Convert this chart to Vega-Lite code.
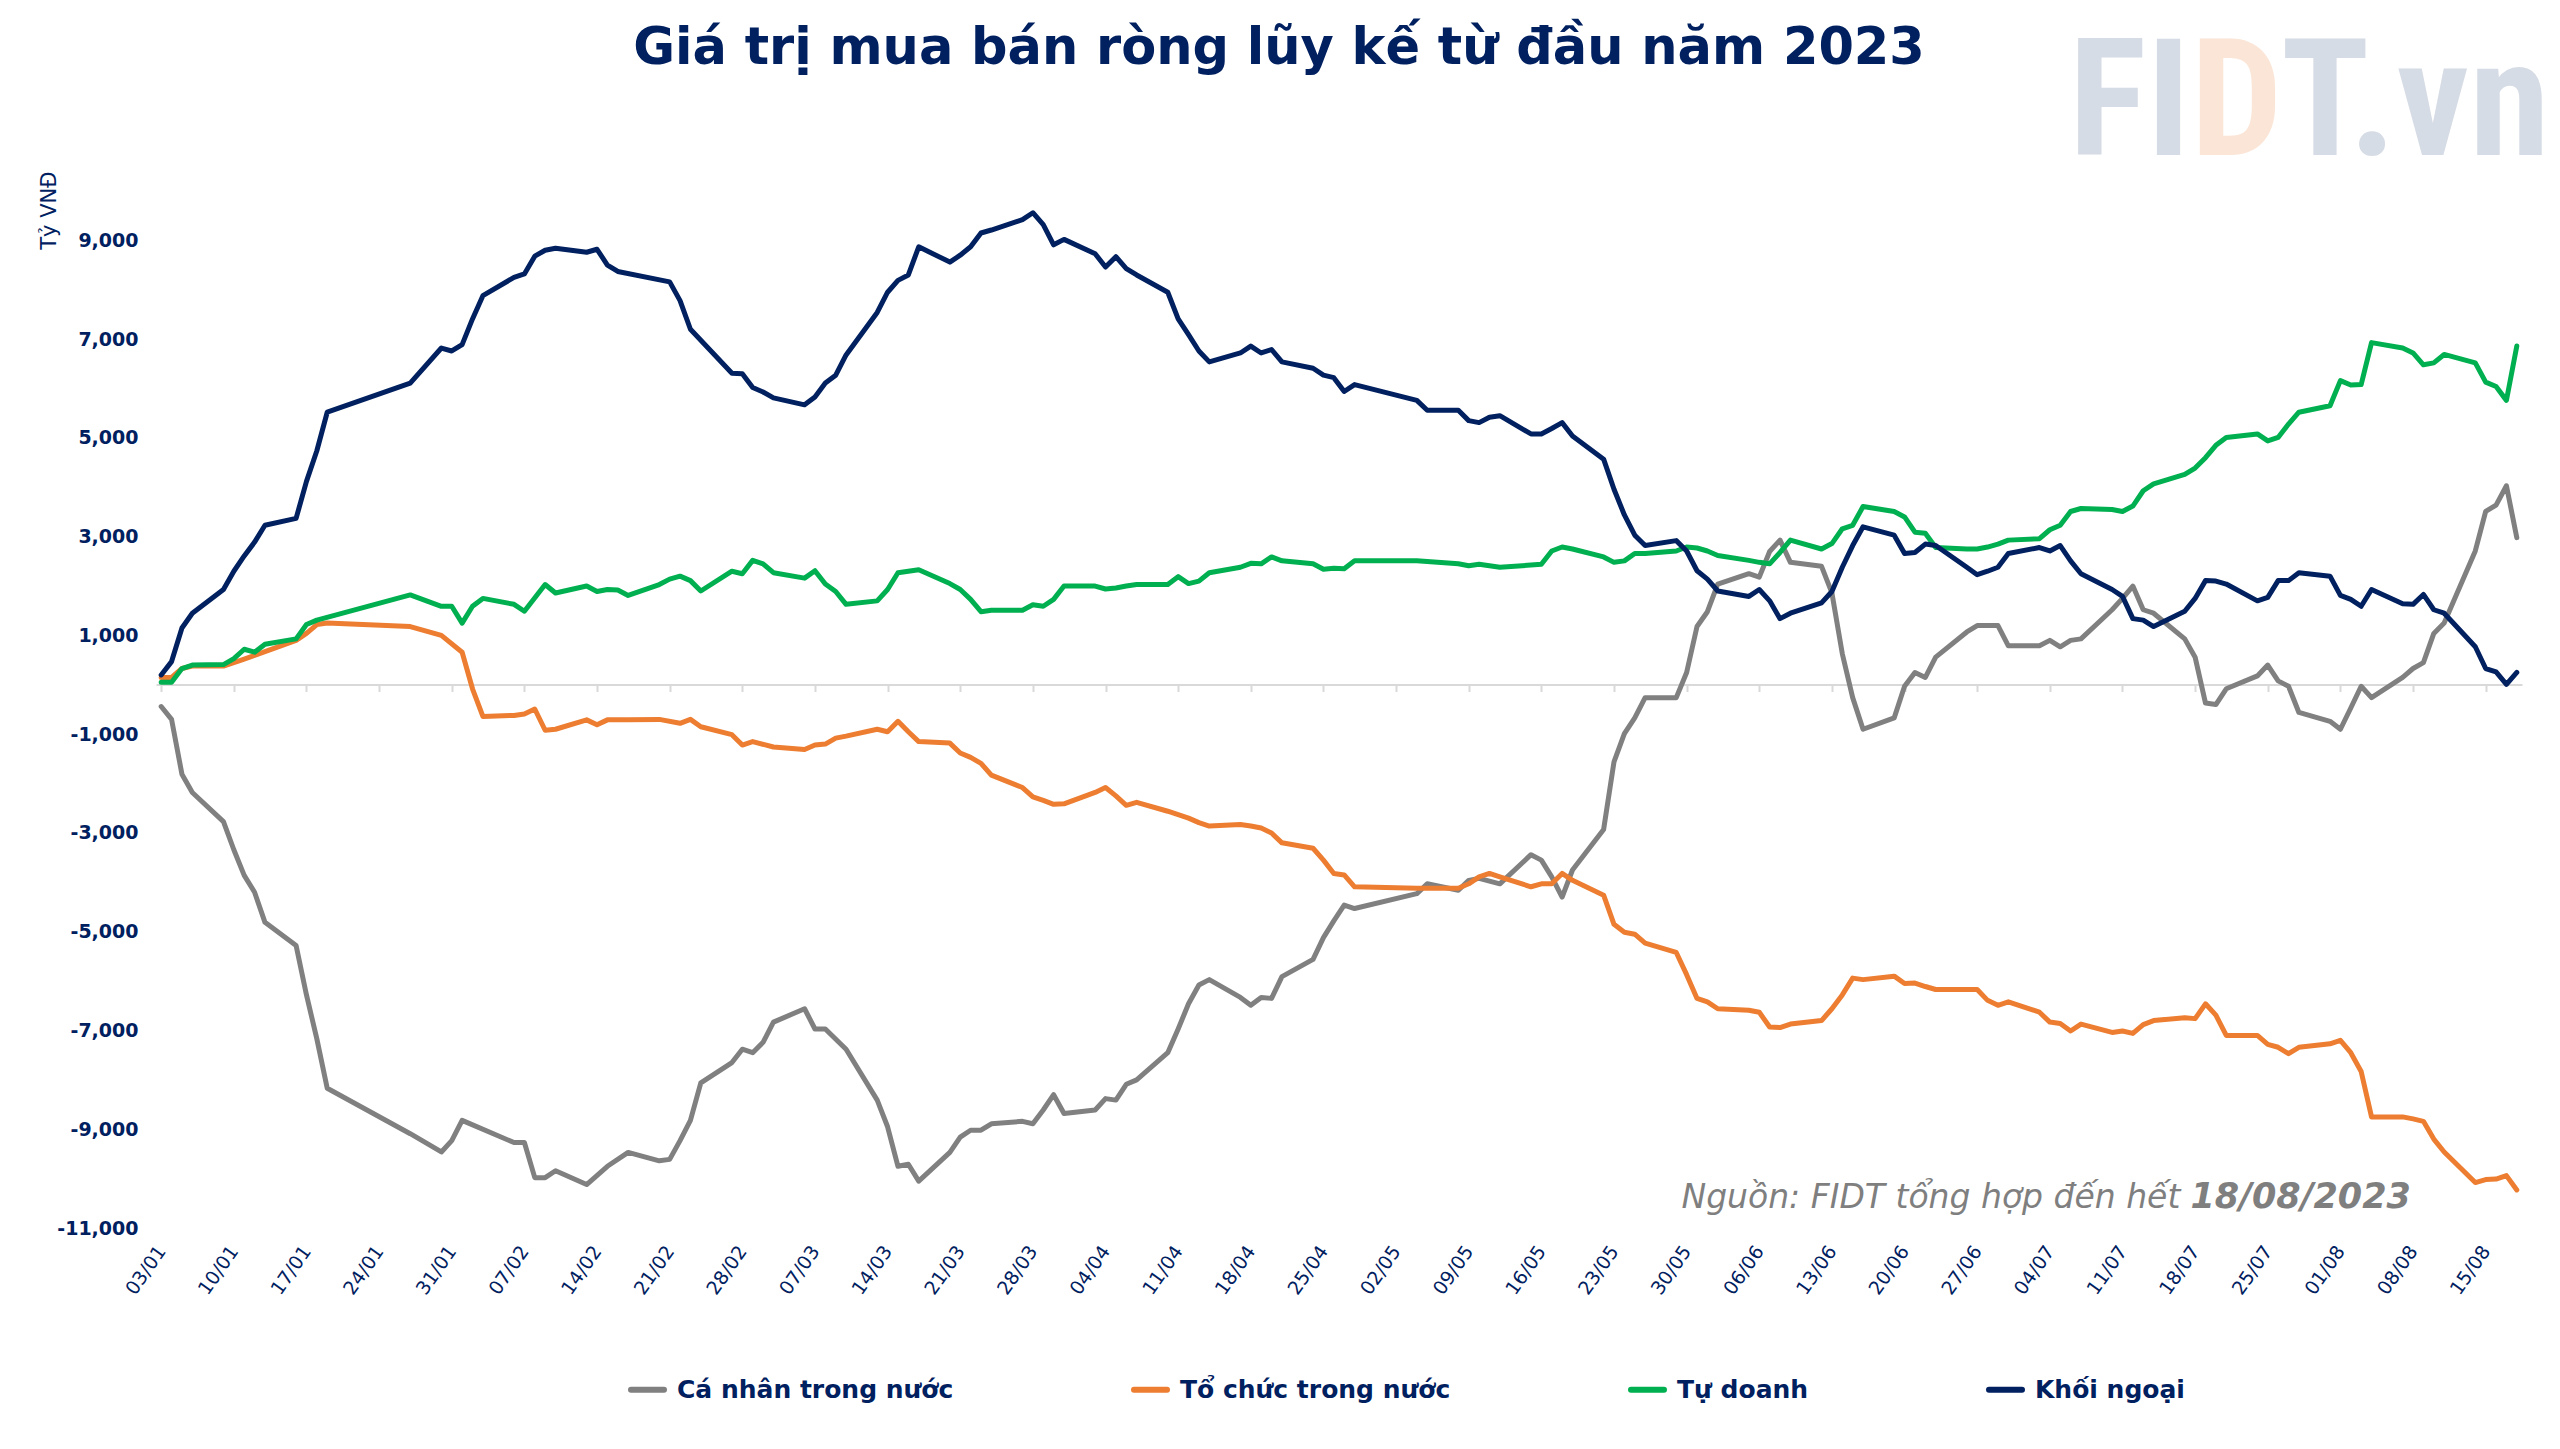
{
  "$schema": "https://vega.github.io/schema/vega-lite/v6.json",
  "width": 2366,
  "height": 1037,
  "autosize": {"type": "none"},
  "padding": {"left": 156, "top": 191, "right": 38, "bottom": 221},
  "background": "white",
  "title": {
    "text": "Giá trị mua bán ròng lũy kế từ đầu năm 2023",
    "font": "DejaVu Sans", "fontWeight": "bold", "fontSize": 51, "color": "#002060",
    "anchor": "middle", "frame": "group", "dx": -60, "baseline": "alphabetic", "offset": -90
  },
  "datasets": {
    "cn": [
      {"d":"2023-01-03","v":-440},{"d":"2023-01-04","v":-700},{"d":"2023-01-05","v":-1810},{"d":"2023-01-06","v":-2180},{"d":"2023-01-09","v":-2770},{"d":"2023-01-10","v":-3340},{"d":"2023-01-11","v":-3860},{"d":"2023-01-12","v":-4200},{"d":"2023-01-13","v":-4810},{"d":"2023-01-16","v":-5280},{"d":"2023-01-17","v":-6280},{"d":"2023-01-18","v":-7170},{"d":"2023-01-19","v":-8170},{"d":"2023-01-27","v":-9090},{"d":"2023-01-30","v":-9460},{"d":"2023-01-31","v":-9230},{"d":"2023-02-01","v":-8820},{"d":"2023-02-06","v":-9270},{"d":"2023-02-07","v":-9270},{"d":"2023-02-08","v":-9980},{"d":"2023-02-09","v":-9980},{"d":"2023-02-10","v":-9840},{"d":"2023-02-13","v":-10120},{"d":"2023-02-15","v":-9750},{"d":"2023-02-17","v":-9470},{"d":"2023-02-20","v":-9640},{"d":"2023-02-21","v":-9610},{"d":"2023-02-22","v":-9230},{"d":"2023-02-23","v":-8820},{"d":"2023-02-24","v":-8060},{"d":"2023-02-27","v":-7650},{"d":"2023-02-28","v":-7380},{"d":"2023-03-01","v":-7450},{"d":"2023-03-02","v":-7240},{"d":"2023-03-03","v":-6830},{"d":"2023-03-06","v":-6560},{"d":"2023-03-07","v":-6970},{"d":"2023-03-08","v":-6970},{"d":"2023-03-10","v":-7380},{"d":"2023-03-13","v":-8410},{"d":"2023-03-14","v":-8950},{"d":"2023-03-15","v":-9750},{"d":"2023-03-16","v":-9710},{"d":"2023-03-17","v":-10050},{"d":"2023-03-20","v":-9470},{"d":"2023-03-21","v":-9160},{"d":"2023-03-22","v":-9020},{"d":"2023-03-23","v":-9020},{"d":"2023-03-24","v":-8890},{"d":"2023-03-27","v":-8840},{"d":"2023-03-28","v":-8890},{"d":"2023-03-29","v":-8610},{"d":"2023-03-30","v":-8300},{"d":"2023-03-31","v":-8680},{"d":"2023-04-03","v":-8610},{"d":"2023-04-04","v":-8380},{"d":"2023-04-05","v":-8410},{"d":"2023-04-06","v":-8090},{"d":"2023-04-07","v":-8000},{"d":"2023-04-10","v":-7450},{"d":"2023-04-11","v":-6970},{"d":"2023-04-12","v":-6460},{"d":"2023-04-13","v":-6080},{"d":"2023-04-14","v":-5970},{"d":"2023-04-17","v":-6330},{"d":"2023-04-18","v":-6490},{"d":"2023-04-19","v":-6330},{"d":"2023-04-20","v":-6350},{"d":"2023-04-21","v":-5910},{"d":"2023-04-24","v":-5560},{"d":"2023-04-25","v":-5120},{"d":"2023-04-26","v":-4780},{"d":"2023-04-27","v":-4460},{"d":"2023-04-28","v":-4530},{"d":"2023-05-04","v":-4230},{"d":"2023-05-05","v":-4030},{"d":"2023-05-08","v":-4160},{"d":"2023-05-09","v":-3960},{"d":"2023-05-10","v":-3920},{"d":"2023-05-12","v":-4030},{"d":"2023-05-15","v":-3440},{"d":"2023-05-16","v":-3550},{"d":"2023-05-17","v":-3890},{"d":"2023-05-18","v":-4300},{"d":"2023-05-19","v":-3750},{"d":"2023-05-22","v":-2930},{"d":"2023-05-23","v":-1560},{"d":"2023-05-24","v":-990},{"d":"2023-05-25","v":-670},{"d":"2023-05-26","v":-260},{"d":"2023-05-29","v":-260},{"d":"2023-05-30","v":250},{"d":"2023-05-31","v":1180},{"d":"2023-06-01","v":1480},{"d":"2023-06-02","v":2040},{"d":"2023-06-05","v":2250},{"d":"2023-06-06","v":2180},{"d":"2023-06-07","v":2700},{"d":"2023-06-08","v":2930},{"d":"2023-06-09","v":2480},{"d":"2023-06-12","v":2400},{"d":"2023-06-13","v":1860},{"d":"2023-06-14","v":630},{"d":"2023-06-15","v":-260},{"d":"2023-06-16","v":-900},{"d":"2023-06-19","v":-670},{"d":"2023-06-20","v":-30},{"d":"2023-06-21","v":250},{"d":"2023-06-22","v":150},{"d":"2023-06-23","v":560},{"d":"2023-06-26","v":1070},{"d":"2023-06-27","v":1200},{"d":"2023-06-28","v":1200},{"d":"2023-06-29","v":1200},{"d":"2023-06-30","v":790},{"d":"2023-07-03","v":790},{"d":"2023-07-04","v":900},{"d":"2023-07-05","v":770},{"d":"2023-07-06","v":900},{"d":"2023-07-07","v":930},{"d":"2023-07-10","v":1520},{"d":"2023-07-11","v":1750},{"d":"2023-07-12","v":2000},{"d":"2023-07-13","v":1520},{"d":"2023-07-14","v":1450},{"d":"2023-07-17","v":930},{"d":"2023-07-18","v":560},{"d":"2023-07-19","v":-370},{"d":"2023-07-20","v":-400},{"d":"2023-07-21","v":-80},{"d":"2023-07-24","v":180},{"d":"2023-07-25","v":400},{"d":"2023-07-26","v":80},{"d":"2023-07-27","v":-30},{"d":"2023-07-28","v":-560},{"d":"2023-07-31","v":-740},{"d":"2023-08-01","v":-900},{"d":"2023-08-02","v":-470},{"d":"2023-08-03","v":-30},{"d":"2023-08-04","v":-260},{"d":"2023-08-07","v":150},{"d":"2023-08-08","v":330},{"d":"2023-08-09","v":450},{"d":"2023-08-10","v":1040},{"d":"2023-08-11","v":1250},{"d":"2023-08-14","v":2710},{"d":"2023-08-15","v":3510},{"d":"2023-08-16","v":3640},{"d":"2023-08-17","v":4030},{"d":"2023-08-18","v":2980}
    ],
    "tc": [
      {"d":"2023-01-03","v":150},{"d":"2023-01-04","v":150},{"d":"2023-01-05","v":330},{"d":"2023-01-06","v":380},{"d":"2023-01-09","v":380},{"d":"2023-01-11","v":520},{"d":"2023-01-13","v":670},{"d":"2023-01-16","v":900},{"d":"2023-01-17","v":1040},{"d":"2023-01-18","v":1220},{"d":"2023-01-19","v":1250},{"d":"2023-01-27","v":1180},{"d":"2023-01-30","v":1000},{"d":"2023-02-01","v":660},{"d":"2023-02-02","v":-80},{"d":"2023-02-03","v":-640},{"d":"2023-02-06","v":-620},{"d":"2023-02-07","v":-590},{"d":"2023-02-08","v":-490},{"d":"2023-02-09","v":-920},{"d":"2023-02-10","v":-900},{"d":"2023-02-13","v":-710},{"d":"2023-02-14","v":-810},{"d":"2023-02-15","v":-710},{"d":"2023-02-17","v":-710},{"d":"2023-02-20","v":-700},{"d":"2023-02-22","v":-780},{"d":"2023-02-23","v":-700},{"d":"2023-02-24","v":-850},{"d":"2023-02-27","v":-1010},{"d":"2023-02-28","v":-1220},{"d":"2023-03-01","v":-1150},{"d":"2023-03-03","v":-1260},{"d":"2023-03-06","v":-1310},{"d":"2023-03-07","v":-1220},{"d":"2023-03-08","v":-1200},{"d":"2023-03-09","v":-1080},{"d":"2023-03-10","v":-1040},{"d":"2023-03-13","v":-900},{"d":"2023-03-14","v":-950},{"d":"2023-03-15","v":-740},{"d":"2023-03-16","v":-950},{"d":"2023-03-17","v":-1150},{"d":"2023-03-20","v":-1180},{"d":"2023-03-21","v":-1380},{"d":"2023-03-22","v":-1470},{"d":"2023-03-23","v":-1590},{"d":"2023-03-24","v":-1830},{"d":"2023-03-27","v":-2080},{"d":"2023-03-28","v":-2270},{"d":"2023-03-29","v":-2340},{"d":"2023-03-30","v":-2420},{"d":"2023-03-31","v":-2410},{"d":"2023-04-03","v":-2180},{"d":"2023-04-04","v":-2080},{"d":"2023-04-05","v":-2250},{"d":"2023-04-06","v":-2440},{"d":"2023-04-07","v":-2380},{"d":"2023-04-10","v":-2560},{"d":"2023-04-11","v":-2630},{"d":"2023-04-12","v":-2700},{"d":"2023-04-13","v":-2790},{"d":"2023-04-14","v":-2860},{"d":"2023-04-17","v":-2830},{"d":"2023-04-18","v":-2860},{"d":"2023-04-19","v":-2900},{"d":"2023-04-20","v":-3000},{"d":"2023-04-21","v":-3200},{"d":"2023-04-24","v":-3310},{"d":"2023-04-25","v":-3550},{"d":"2023-04-26","v":-3820},{"d":"2023-04-27","v":-3850},{"d":"2023-04-28","v":-4090},{"d":"2023-05-04","v":-4120},{"d":"2023-05-08","v":-4120},{"d":"2023-05-09","v":-4030},{"d":"2023-05-10","v":-3890},{"d":"2023-05-11","v":-3820},{"d":"2023-05-12","v":-3890},{"d":"2023-05-15","v":-4090},{"d":"2023-05-16","v":-4030},{"d":"2023-05-17","v":-4030},{"d":"2023-05-18","v":-3820},{"d":"2023-05-19","v":-3960},{"d":"2023-05-22","v":-4260},{"d":"2023-05-23","v":-4850},{"d":"2023-05-24","v":-5010},{"d":"2023-05-25","v":-5050},{"d":"2023-05-26","v":-5230},{"d":"2023-05-29","v":-5420},{"d":"2023-05-30","v":-5870},{"d":"2023-05-31","v":-6350},{"d":"2023-06-01","v":-6420},{"d":"2023-06-02","v":-6560},{"d":"2023-06-05","v":-6590},{"d":"2023-06-06","v":-6630},{"d":"2023-06-07","v":-6930},{"d":"2023-06-08","v":-6940},{"d":"2023-06-09","v":-6870},{"d":"2023-06-12","v":-6800},{"d":"2023-06-13","v":-6560},{"d":"2023-06-14","v":-6280},{"d":"2023-06-15","v":-5940},{"d":"2023-06-16","v":-5970},{"d":"2023-06-19","v":-5900},{"d":"2023-06-20","v":-6050},{"d":"2023-06-21","v":-6040},{"d":"2023-06-22","v":-6110},{"d":"2023-06-23","v":-6170},{"d":"2023-06-26","v":-6170},{"d":"2023-06-27","v":-6170},{"d":"2023-06-28","v":-6390},{"d":"2023-06-29","v":-6490},{"d":"2023-06-30","v":-6420},{"d":"2023-07-03","v":-6630},{"d":"2023-07-04","v":-6830},{"d":"2023-07-05","v":-6860},{"d":"2023-07-06","v":-7010},{"d":"2023-07-07","v":-6870},{"d":"2023-07-10","v":-7040},{"d":"2023-07-11","v":-7010},{"d":"2023-07-12","v":-7060},{"d":"2023-07-13","v":-6880},{"d":"2023-07-14","v":-6800},{"d":"2023-07-17","v":-6740},{"d":"2023-07-18","v":-6760},{"d":"2023-07-19","v":-6460},{"d":"2023-07-20","v":-6690},{"d":"2023-07-21","v":-7100},{"d":"2023-07-24","v":-7100},{"d":"2023-07-25","v":-7280},{"d":"2023-07-26","v":-7340},{"d":"2023-07-27","v":-7470},{"d":"2023-07-28","v":-7340},{"d":"2023-07-31","v":-7270},{"d":"2023-08-01","v":-7200},{"d":"2023-08-02","v":-7450},{"d":"2023-08-03","v":-7830},{"d":"2023-08-04","v":-8750},{"d":"2023-08-07","v":-8750},{"d":"2023-08-08","v":-8790},{"d":"2023-08-09","v":-8840},{"d":"2023-08-10","v":-9200},{"d":"2023-08-11","v":-9460},{"d":"2023-08-14","v":-10080},{"d":"2023-08-15","v":-10020},{"d":"2023-08-16","v":-10010},{"d":"2023-08-17","v":-9940},{"d":"2023-08-18","v":-10230}
    ],
    "td": [
      {"d":"2023-01-03","v":50},{"d":"2023-01-04","v":50},{"d":"2023-01-05","v":330},{"d":"2023-01-06","v":400},{"d":"2023-01-09","v":410},{"d":"2023-01-10","v":530},{"d":"2023-01-11","v":720},{"d":"2023-01-12","v":660},{"d":"2023-01-13","v":820},{"d":"2023-01-16","v":930},{"d":"2023-01-17","v":1220},{"d":"2023-01-18","v":1310},{"d":"2023-01-27","v":1820},{"d":"2023-01-30","v":1590},{"d":"2023-01-31","v":1590},{"d":"2023-02-01","v":1250},{"d":"2023-02-02","v":1590},{"d":"2023-02-03","v":1750},{"d":"2023-02-06","v":1630},{"d":"2023-02-07","v":1490},{"d":"2023-02-09","v":2030},{"d":"2023-02-10","v":1860},{"d":"2023-02-13","v":2000},{"d":"2023-02-14","v":1890},{"d":"2023-02-15","v":1930},{"d":"2023-02-16","v":1920},{"d":"2023-02-17","v":1810},{"d":"2023-02-20","v":2030},{"d":"2023-02-21","v":2140},{"d":"2023-02-22","v":2200},{"d":"2023-02-23","v":2110},{"d":"2023-02-24","v":1900},{"d":"2023-02-27","v":2300},{"d":"2023-02-28","v":2250},{"d":"2023-03-01","v":2520},{"d":"2023-03-02","v":2450},{"d":"2023-03-03","v":2270},{"d":"2023-03-06","v":2160},{"d":"2023-03-07","v":2310},{"d":"2023-03-08","v":2040},{"d":"2023-03-09","v":1890},{"d":"2023-03-10","v":1630},{"d":"2023-03-13","v":1700},{"d":"2023-03-14","v":1930},{"d":"2023-03-15","v":2270},{"d":"2023-03-17","v":2330},{"d":"2023-03-20","v":2050},{"d":"2023-03-21","v":1930},{"d":"2023-03-22","v":1730},{"d":"2023-03-23","v":1480},{"d":"2023-03-24","v":1510},{"d":"2023-03-27","v":1510},{"d":"2023-03-28","v":1620},{"d":"2023-03-29","v":1590},{"d":"2023-03-30","v":1730},{"d":"2023-03-31","v":2000},{"d":"2023-04-03","v":2000},{"d":"2023-04-04","v":1940},{"d":"2023-04-05","v":1960},{"d":"2023-04-06","v":2000},{"d":"2023-04-07","v":2030},{"d":"2023-04-10","v":2030},{"d":"2023-04-11","v":2190},{"d":"2023-04-12","v":2050},{"d":"2023-04-13","v":2100},{"d":"2023-04-14","v":2270},{"d":"2023-04-17","v":2380},{"d":"2023-04-18","v":2460},{"d":"2023-04-19","v":2450},{"d":"2023-04-20","v":2590},{"d":"2023-04-21","v":2510},{"d":"2023-04-24","v":2450},{"d":"2023-04-25","v":2340},{"d":"2023-04-26","v":2360},{"d":"2023-04-27","v":2350},{"d":"2023-04-28","v":2510},{"d":"2023-05-04","v":2510},{"d":"2023-05-08","v":2450},{"d":"2023-05-09","v":2410},{"d":"2023-05-10","v":2440},{"d":"2023-05-12","v":2380},{"d":"2023-05-16","v":2440},{"d":"2023-05-17","v":2710},{"d":"2023-05-18","v":2790},{"d":"2023-05-19","v":2750},{"d":"2023-05-22","v":2590},{"d":"2023-05-23","v":2480},{"d":"2023-05-24","v":2510},{"d":"2023-05-25","v":2660},{"d":"2023-05-26","v":2660},{"d":"2023-05-29","v":2710},{"d":"2023-05-30","v":2790},{"d":"2023-05-31","v":2770},{"d":"2023-06-01","v":2710},{"d":"2023-06-02","v":2620},{"d":"2023-06-05","v":2520},{"d":"2023-06-06","v":2480},{"d":"2023-06-07","v":2450},{"d":"2023-06-08","v":2680},{"d":"2023-06-09","v":2930},{"d":"2023-06-12","v":2750},{"d":"2023-06-13","v":2860},{"d":"2023-06-14","v":3160},{"d":"2023-06-15","v":3230},{"d":"2023-06-16","v":3610},{"d":"2023-06-19","v":3510},{"d":"2023-06-20","v":3400},{"d":"2023-06-21","v":3090},{"d":"2023-06-22","v":3070},{"d":"2023-06-23","v":2780},{"d":"2023-06-26","v":2750},{"d":"2023-06-27","v":2750},{"d":"2023-06-28","v":2790},{"d":"2023-06-29","v":2850},{"d":"2023-06-30","v":2930},{"d":"2023-07-03","v":2960},{"d":"2023-07-04","v":3140},{"d":"2023-07-05","v":3230},{"d":"2023-07-06","v":3510},{"d":"2023-07-07","v":3570},{"d":"2023-07-10","v":3550},{"d":"2023-07-11","v":3510},{"d":"2023-07-12","v":3620},{"d":"2023-07-13","v":3930},{"d":"2023-07-14","v":4070},{"d":"2023-07-17","v":4260},{"d":"2023-07-18","v":4390},{"d":"2023-07-19","v":4600},{"d":"2023-07-20","v":4850},{"d":"2023-07-21","v":5010},{"d":"2023-07-24","v":5080},{"d":"2023-07-25","v":4940},{"d":"2023-07-26","v":5010},{"d":"2023-07-27","v":5280},{"d":"2023-07-28","v":5520},{"d":"2023-07-31","v":5650},{"d":"2023-08-01","v":6160},{"d":"2023-08-02","v":6070},{"d":"2023-08-03","v":6080},{"d":"2023-08-04","v":6930},{"d":"2023-08-07","v":6820},{"d":"2023-08-08","v":6720},{"d":"2023-08-09","v":6480},{"d":"2023-08-10","v":6520},{"d":"2023-08-11","v":6690},{"d":"2023-08-14","v":6520},{"d":"2023-08-15","v":6130},{"d":"2023-08-16","v":6040},{"d":"2023-08-17","v":5760},{"d":"2023-08-18","v":6860}
    ],
    "kn": [
      {"d":"2023-01-03","v":200},{"d":"2023-01-04","v":470},{"d":"2023-01-05","v":1150},{"d":"2023-01-06","v":1450},{"d":"2023-01-09","v":1930},{"d":"2023-01-10","v":2300},{"d":"2023-01-11","v":2610},{"d":"2023-01-12","v":2890},{"d":"2023-01-13","v":3230},{"d":"2023-01-16","v":3370},{"d":"2023-01-17","v":4120},{"d":"2023-01-18","v":4740},{"d":"2023-01-19","v":5520},{"d":"2023-01-27","v":6110},{"d":"2023-01-30","v":6820},{"d":"2023-01-31","v":6760},{"d":"2023-02-01","v":6890},{"d":"2023-02-02","v":7410},{"d":"2023-02-03","v":7880},{"d":"2023-02-06","v":8250},{"d":"2023-02-07","v":8320},{"d":"2023-02-08","v":8680},{"d":"2023-02-09","v":8800},{"d":"2023-02-10","v":8840},{"d":"2023-02-13","v":8760},{"d":"2023-02-14","v":8820},{"d":"2023-02-15","v":8500},{"d":"2023-02-16","v":8370},{"d":"2023-02-21","v":8160},{"d":"2023-02-22","v":7780},{"d":"2023-02-23","v":7200},{"d":"2023-02-27","v":6310},{"d":"2023-02-28","v":6300},{"d":"2023-03-01","v":6020},{"d":"2023-03-02","v":5930},{"d":"2023-03-03","v":5810},{"d":"2023-03-06","v":5670},{"d":"2023-03-07","v":5830},{"d":"2023-03-08","v":6110},{"d":"2023-03-09","v":6270},{"d":"2023-03-10","v":6680},{"d":"2023-03-13","v":7540},{"d":"2023-03-14","v":7950},{"d":"2023-03-15","v":8190},{"d":"2023-03-16","v":8300},{"d":"2023-03-17","v":8870},{"d":"2023-03-20","v":8560},{"d":"2023-03-21","v":8700},{"d":"2023-03-22","v":8870},{"d":"2023-03-23","v":9150},{"d":"2023-03-24","v":9210},{"d":"2023-03-27","v":9420},{"d":"2023-03-28","v":9560},{"d":"2023-03-29","v":9320},{"d":"2023-03-30","v":8910},{"d":"2023-03-31","v":9020},{"d":"2023-04-03","v":8730},{"d":"2023-04-04","v":8460},{"d":"2023-04-05","v":8670},{"d":"2023-04-06","v":8430},{"d":"2023-04-07","v":8300},{"d":"2023-04-10","v":7950},{"d":"2023-04-11","v":7410},{"d":"2023-04-12","v":7090},{"d":"2023-04-13","v":6760},{"d":"2023-04-14","v":6540},{"d":"2023-04-17","v":6720},{"d":"2023-04-18","v":6860},{"d":"2023-04-19","v":6720},{"d":"2023-04-20","v":6790},{"d":"2023-04-21","v":6540},{"d":"2023-04-24","v":6410},{"d":"2023-04-25","v":6270},{"d":"2023-04-26","v":6220},{"d":"2023-04-27","v":5940},{"d":"2023-04-28","v":6080},{"d":"2023-05-04","v":5760},{"d":"2023-05-05","v":5560},{"d":"2023-05-08","v":5560},{"d":"2023-05-09","v":5350},{"d":"2023-05-10","v":5310},{"d":"2023-05-11","v":5420},{"d":"2023-05-12","v":5450},{"d":"2023-05-15","v":5080},{"d":"2023-05-16","v":5080},{"d":"2023-05-17","v":5190},{"d":"2023-05-18","v":5310},{"d":"2023-05-19","v":5040},{"d":"2023-05-22","v":4570},{"d":"2023-05-23","v":3960},{"d":"2023-05-24","v":3440},{"d":"2023-05-25","v":3030},{"d":"2023-05-26","v":2820},{"d":"2023-05-29","v":2920},{"d":"2023-05-30","v":2710},{"d":"2023-05-31","v":2310},{"d":"2023-06-01","v":2140},{"d":"2023-06-02","v":1900},{"d":"2023-06-05","v":1790},{"d":"2023-06-06","v":1930},{"d":"2023-06-07","v":1700},{"d":"2023-06-08","v":1340},{"d":"2023-06-09","v":1450},{"d":"2023-06-12","v":1660},{"d":"2023-06-13","v":1890},{"d":"2023-06-14","v":2380},{"d":"2023-06-15","v":2820},{"d":"2023-06-16","v":3200},{"d":"2023-06-19","v":3030},{"d":"2023-06-20","v":2660},{"d":"2023-06-21","v":2680},{"d":"2023-06-22","v":2850},{"d":"2023-06-23","v":2820},{"d":"2023-06-26","v":2380},{"d":"2023-06-27","v":2230},{"d":"2023-06-28","v":2300},{"d":"2023-06-29","v":2380},{"d":"2023-06-30","v":2660},{"d":"2023-07-03","v":2780},{"d":"2023-07-04","v":2710},{"d":"2023-07-05","v":2820},{"d":"2023-07-06","v":2510},{"d":"2023-07-07","v":2250},{"d":"2023-07-10","v":1930},{"d":"2023-07-11","v":1790},{"d":"2023-07-12","v":1340},{"d":"2023-07-13","v":1310},{"d":"2023-07-14","v":1180},{"d":"2023-07-17","v":1490},{"d":"2023-07-18","v":1750},{"d":"2023-07-19","v":2110},{"d":"2023-07-20","v":2100},{"d":"2023-07-21","v":2040},{"d":"2023-07-24","v":1700},{"d":"2023-07-25","v":1770},{"d":"2023-07-26","v":2110},{"d":"2023-07-27","v":2110},{"d":"2023-07-28","v":2270},{"d":"2023-07-31","v":2200},{"d":"2023-08-01","v":1810},{"d":"2023-08-02","v":1730},{"d":"2023-08-03","v":1590},{"d":"2023-08-04","v":1930},{"d":"2023-08-07","v":1640},{"d":"2023-08-08","v":1630},{"d":"2023-08-09","v":1830},{"d":"2023-08-10","v":1520},{"d":"2023-08-11","v":1450},{"d":"2023-08-14","v":770},{"d":"2023-08-15","v":330},{"d":"2023-08-16","v":260},{"d":"2023-08-17","v":10},{"d":"2023-08-18","v":250}
    ]
  },
  "layer": [
    {
      "encoding": {
        "x": {
          "field": "d", "type": "temporal",
          "scale": {"type": "utc", "nice": false, "domain": [{"year": 2023, "month": 1, "date": 2, "hours": 12, "utc": true}, {"year": 2023, "month": 8, "date": 18, "hours": 12, "utc": true}]},
          "axis": {
            "title": null, "grid": false,
            "values": [1672704000000,1673308800000,1673913600000,1674518400000,1675123200000,1675728000000,1676332800000,1676937600000,1677542400000,1678147200000,1678752000000,1679356800000,1679961600000,1680566400000,1681171200000,1681776000000,1682380800000,1682985600000,1683590400000,1684195200000,1684800000000,1685404800000,1686009600000,1686614400000,1687219200000,1687824000000,1688428800000,1689033600000,1689638400000,1690243200000,1690848000000,1691452800000,1692057600000],
            "labelExpr": "utcFormat(datum.value, '%d/%m')",
            "labelAngle": -55, "labelAlign": "right", "labelBaseline": "middle",
            "labelFont": "DejaVu Sans", "labelFontSize": 19, "labelColor": "#002060",
            "labelPadding": 556, "offset": -543.5,
            "labelOverlap": false, "labelBound": false, "labelFlush": false,
            "domain": true, "domainColor": "#D9D9D9", "domainWidth": 2,
            "ticks": true, "tickColor": "#D9D9D9", "tickWidth": 2, "tickSize": 7
          }
        },
        "y": {
          "field": "v", "type": "quantitative",
          "scale": {"domain": [-11000, 10000], "nice": false, "zero": false},
          "axis": {
            "values": [-11000,-9000,-7000,-5000,-3000,-1000,1000,3000,5000,7000,9000],
            "labelExpr": "replace(format(datum.value, ','), '\u2212', '-')",
            "grid": false, "domain": false, "ticks": false,
            "labelFont": "DejaVu Sans", "labelFontWeight": "bold", "labelFontSize": 19, "labelColor": "#002060", "labelPadding": 18,
            "title": "Tỷ VNĐ", "titleAngle": 270, "titleAlign": "right", "titleBaseline": "middle",
            "titleX": -107, "titleY": -20,
            "titleFont": "DejaVu Sans", "titleFontWeight": "normal", "titleFontSize": 21, "titleColor": "#002060"
          }
        }
      },
      "layer": [
        {
          "data": {"name": "cn"},
          "mark": {"type": "line", "strokeWidth": 5, "strokeJoin": "round", "strokeCap": "round"},
          "encoding": {
            "color": {
              "datum": "Cá nhân trong nước",
              "scale": {"domain": ["Cá nhân trong nước", "Tổ chức trong nước", "Tự doanh", "Khối ngoại"], "range": ["#808080", "#ED7D31", "#00B050", "#002060"]},
              "legend": {
                "title": null, "orient": "none", "legendX": 472, "legendY": 1179, "direction": "horizontal", "columns": 4, "columnPadding": 168,
                "symbolType": "stroke", "symbolStrokeWidth": 6, "symbolSize": 1089, "padding": 0,
                "labelFont": "DejaVu Sans", "labelFontWeight": "bold", "labelFontSize": 25, "labelColor": "#002060", "labelOffset": 10, "labelLimit": 0,
                "encode": {"symbols": {"update": {"strokeCap": {"value": "round"}}}}
              }
            }
          }
        },
        {
          "data": {"name": "tc"},
          "mark": {"type": "line", "strokeWidth": 5, "strokeJoin": "round", "strokeCap": "round"},
          "encoding": {"color": {"datum": "Tổ chức trong nước"}}
        },
        {
          "data": {"name": "td"},
          "mark": {"type": "line", "strokeWidth": 5, "strokeJoin": "round", "strokeCap": "round"},
          "encoding": {"color": {"datum": "Tự doanh"}}
        },
        {
          "data": {"name": "kn"},
          "mark": {"type": "line", "strokeWidth": 5, "strokeJoin": "round", "strokeCap": "round"},
          "encoding": {"color": {"datum": "Khối ngoại"}}
        }
      ]
    },
    {
      "data": {"values": [{}]},
      "mark": {"type": "text", "text": "Nguồn: FIDT tổng hợp đến hết", "font": "DejaVu Sans", "fontStyle": "italic", "fontSize": 33, "color": "#7F7F7F", "align": "left", "baseline": "alphabetic"},
      "encoding": {
        "x": {"datum": {"year": 2023, "month": 5, "date": 29, "hours": 12, "utc": true}, "type": "temporal"},
        "y": {"datum": -10600, "type": "quantitative"}
      }
    },
    {
      "data": {"values": [{}]},
      "mark": {"type": "text", "text": "18/08/2023", "font": "DejaVu Sans", "fontStyle": "italic", "fontWeight": "bold", "fontSize": 35, "color": "#7F7F7F", "align": "right", "baseline": "alphabetic"},
      "encoding": {
        "x": {"datum": {"year": 2023, "month": 8, "date": 7, "hours": 19, "utc": true}, "type": "temporal"},
        "y": {"datum": -10600, "type": "quantitative"}
      }
    },
    {
      "data": {"values": [{}]},
      "mark": {"type": "text", "text": "FI", "font": "Roboto Condensed, Liberation Sans, sans-serif", "fontWeight": "bold", "fontSize": 163, "color": "#D6DCE5", "align": "left", "baseline": "alphabetic"},
      "encoding": {
        "x": {"datum": {"year": 2023, "month": 7, "date": 5, "hours": 20, "utc": true}, "type": "temporal"},
        "y": {"datum": 10720, "type": "quantitative"}
      }
    },
    {
      "data": {"values": [{}]},
      "mark": {"type": "text", "text": "D", "font": "Roboto Condensed, Liberation Sans, sans-serif", "fontWeight": "bold", "fontSize": 163, "color": "#FBE5D6", "align": "center", "baseline": "alphabetic"},
      "encoding": {
        "x": {"datum": {"year": 2023, "month": 7, "date": 22, "hours": 0, "utc": true}, "type": "temporal"},
        "y": {"datum": 10720, "type": "quantitative"}
      }
    },
    {
      "data": {"values": [{}]},
      "mark": {"type": "text", "text": "T.vn", "font": "Roboto Condensed, Liberation Sans, sans-serif", "fontWeight": "bold", "fontSize": 163, "color": "#D6DCE5", "align": "right", "baseline": "alphabetic"},
      "encoding": {
        "x": {"datum": {"year": 2023, "month": 8, "date": 21, "hours": 4, "utc": true}, "type": "temporal"},
        "y": {"datum": 10720, "type": "quantitative"}
      }
    }
  ],
  "config": {
    "view": {"stroke": null},
    "font": "DejaVu Sans"
  }
}
